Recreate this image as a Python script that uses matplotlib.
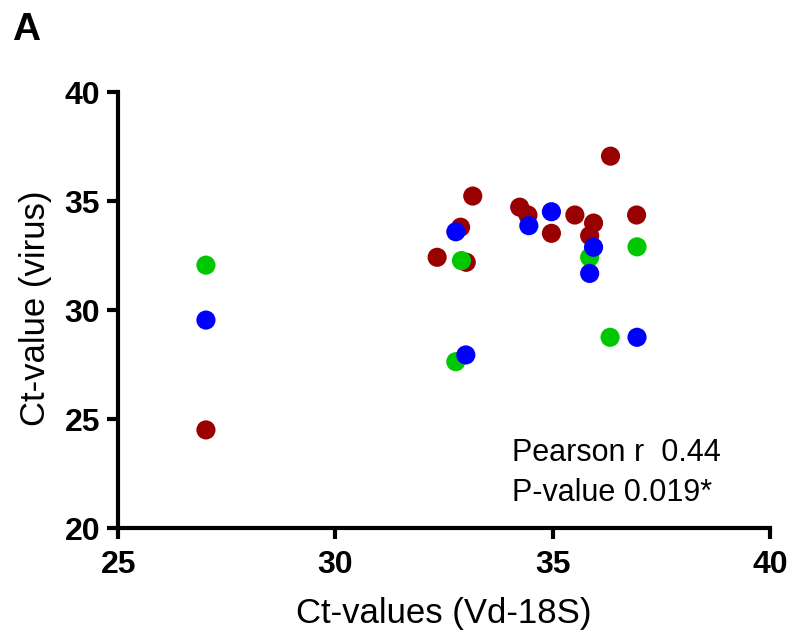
import numpy as np
import matplotlib.pyplot as plt

plt.rcParams['font.family'] = ['Liberation Sans', 'DejaVu Sans']

# red series
red_x = [27.02, 32.34, 32.88, 33.01, 33.16, 34.24, 34.43, 34.97, 35.51, 35.85, 35.94, 36.33, 36.93]
red_y = [24.5, 32.42, 33.8, 32.19, 35.23, 34.72, 34.36, 33.52, 34.36, 33.41, 33.99, 37.06, 34.36]

# green series
green_x = [27.02, 32.9, 32.77, 35.85, 36.32, 36.94]
green_y = [32.06, 32.27, 27.63, 32.42, 28.75, 32.9]

# blue series
blue_x = [27.02, 32.77, 33.0, 34.45, 34.97, 35.85, 35.94, 36.94]
blue_y = [29.54, 33.59, 27.94, 33.87, 34.51, 31.68, 32.88, 28.75]

fig = plt.figure(figsize=(7.93, 6.35), dpi=100)
ax = fig.add_axes([0.149, 0.1685, 0.822, 0.6865])

ms = 190
ax.scatter(red_x, red_y, s=ms, color='#990000', edgecolors='none', zorder=3)
ax.scatter(green_x, green_y, s=ms, color='#00c800', edgecolors='none', zorder=4)
ax.scatter(blue_x, blue_y, s=ms, color='#0000ff', edgecolors='none', zorder=5)

ax.set_xlim(25, 40)
ax.set_ylim(20, 40)
ax.set_xticks([25, 30, 35, 40])
ax.set_yticks([20, 25, 30, 35, 40])

for side in ['top', 'right']:
    ax.spines[side].set_visible(False)
for side in ['left', 'bottom']:
    ax.spines[side].set_linewidth(3)
ax.tick_params(width=3, length=8, direction='out', labelsize=23)
ax.tick_params(axis='x', pad=8)
ax.tick_params(axis='y', pad=5)
for lab in ax.get_xticklabels() + ax.get_yticklabels():
    lab.set_fontweight('bold')

ax.set_xlabel('Ct-values (Vd-18S)', fontsize=25)
ax.set_ylabel('Ct-value (virus)', fontsize=25)
ax.xaxis.set_label_coords(0.5, -0.158)
ax.yaxis.set_label_coords(-0.101, 0.505)

ax.text(0.604, 0.172, 'Pearson r  0.44', transform=ax.transAxes, fontsize=22, va='center')
ax.text(0.604, 0.080, 'P-value 0.019*', transform=ax.transAxes, fontsize=22, va='center')

fig.text(0.015, 0.937, 'A', fontsize=28, fontweight='bold', va='baseline')

fig.savefig('out.png', dpi=100)
